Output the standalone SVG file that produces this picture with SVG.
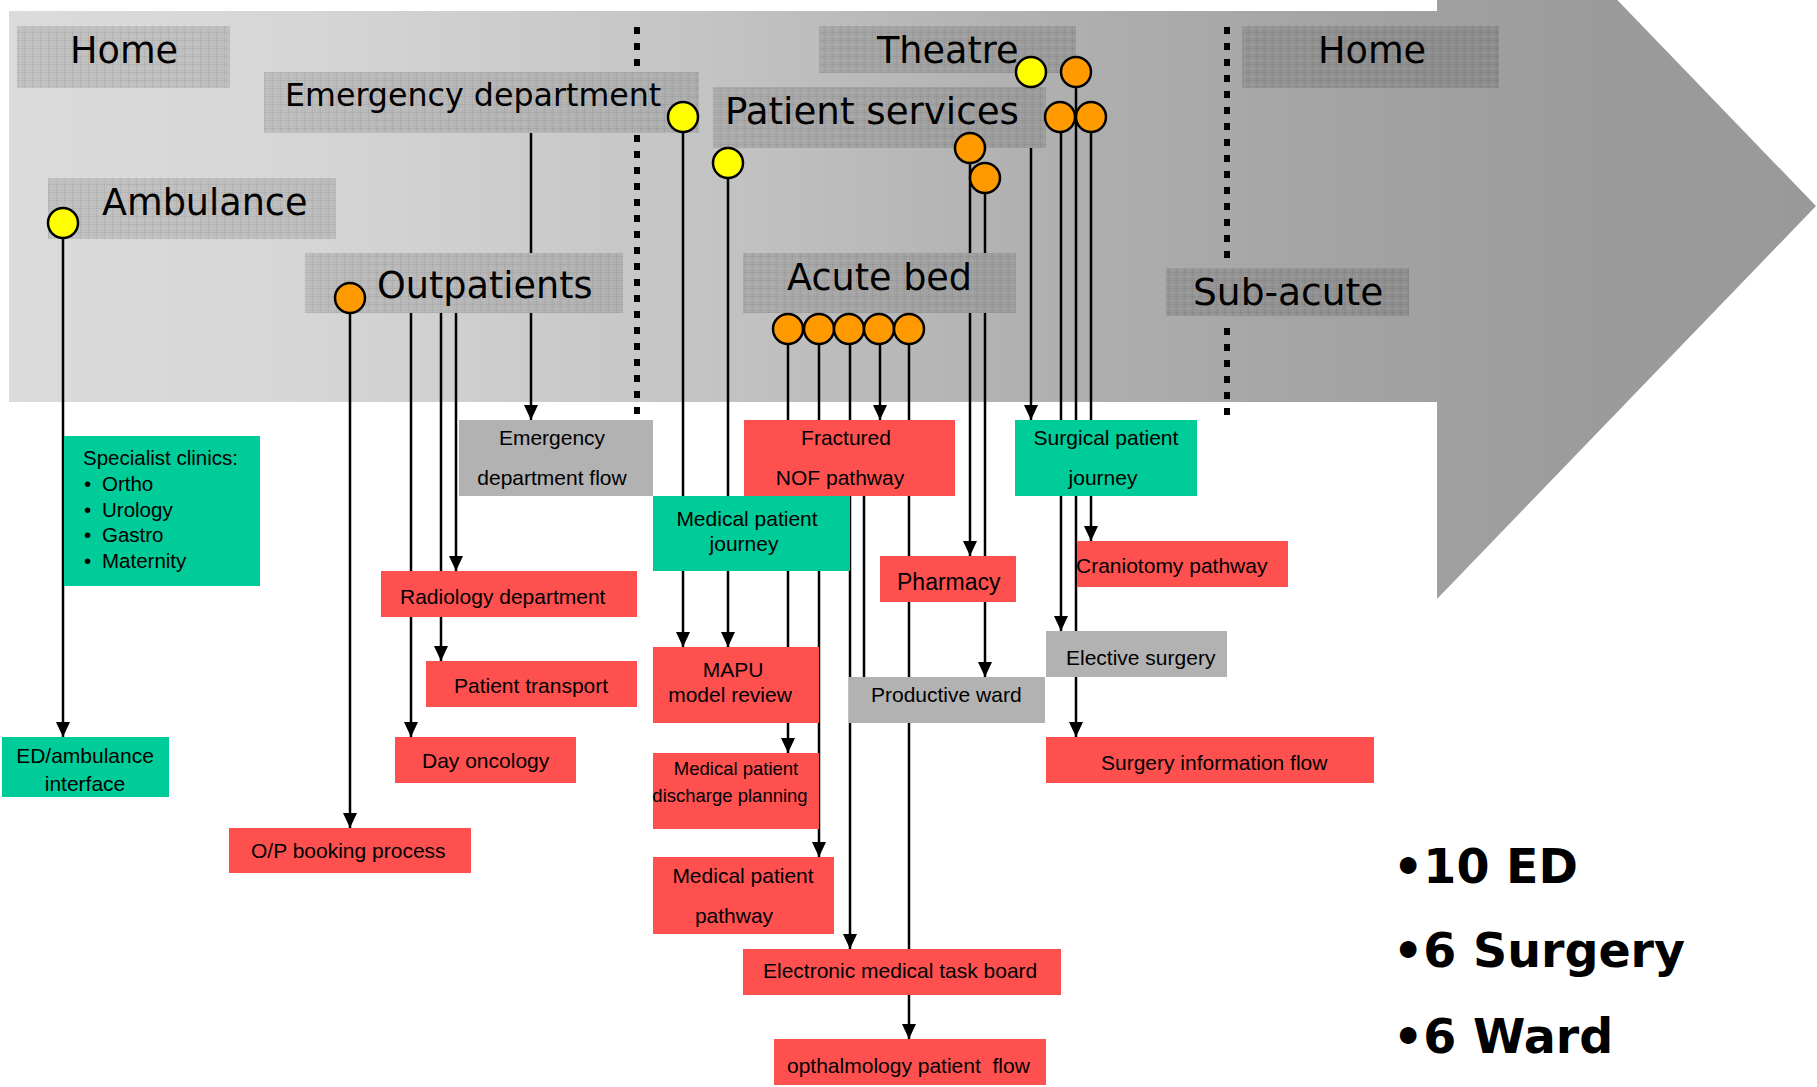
<svg xmlns="http://www.w3.org/2000/svg" width="1817" height="1087" viewBox="0 0 1817 1087">
  <defs>
    <linearGradient id="bandFill" gradientUnits="userSpaceOnUse" x1="9" y1="0" x2="1816" y2="0">
      <stop offset="0" stop-color="#dbdbdb"/>
      <stop offset="0.161" stop-color="#d6d6d6"/>
      <stop offset="0.382" stop-color="#c4c4c4"/>
      <stop offset="0.548" stop-color="#b2b2b2"/>
      <stop offset="0.714" stop-color="#a5a5a5"/>
      <stop offset="0.88" stop-color="#9b9b9b"/>
      <stop offset="1" stop-color="#999999"/>
    </linearGradient>
    <!-- fine gridded texture of the stage labels -->
    <pattern id="labelTexture" width="8" height="8" patternUnits="userSpaceOnUse">
      <rect width="8" height="8" fill="#000" fill-opacity="0.12"/>
      <path d="M0 0.5H8M0.5 0V8" stroke="#000" stroke-opacity="0.05" stroke-width="1"/>
      <path d="M0 4.5H8M4.5 0V8" stroke="#fff" stroke-opacity="0.06" stroke-width="1"/>
    </pattern>
    <marker id="arrow" markerUnits="userSpaceOnUse" markerWidth="15" markerHeight="14" refX="15" refY="7" orient="auto">
      <path d="M0,0 L15,7 L0,14 Z" fill="#000"/>
    </marker>
  </defs>
  <style>
    .lbl rect { fill: url(#labelTexture); }
    .lbl text { font-family: "DejaVu Sans", Verdana, sans-serif; font-size: 36.6px; fill: #000; }
    .box text { font-family: "Liberation Sans", Arial, sans-serif; font-size: 21px; fill: #000; }
    .red { fill: #ff5050; }
    .green { fill: #00cc99; }
    .grey { fill: #b2b2b2; }
    .conn line { stroke: #000; stroke-width: 2.5; fill: none; }
    .conn line.arr { marker-end: url(#arrow); }
    .dots line { stroke: #000; stroke-width: 6; stroke-dasharray: 7 9; }
    .yel { fill: #ffff00; stroke: #000; stroke-width: 2.5; }
    .org { fill: #ff9900; stroke: #000; stroke-width: 2.5; }
    .tally text { font-family: "DejaVu Sans", Verdana, sans-serif; font-weight: bold; font-size: 47.5px; fill: #000; }
  </style>

  <!-- big timeline arrow -->
  <path id="timeline" d="M9,11 H1437 V-187 L1816,206 L1437,599 V402 H9 Z" fill="url(#bandFill)"/>

  <!-- stage separators -->
  <g class="dots">
    <line x1="637" y1="27" x2="637" y2="72"/>
    <line x1="637" y1="135" x2="637" y2="414"/>
    <line x1="1227" y1="27" x2="1227" y2="267"/>
    <line x1="1227" y1="328" x2="1227" y2="417"/>
  </g>

  <!-- stage labels -->
  <g id="lbl-home-start" class="lbl"><rect x="17" y="26" width="213" height="62"/><text x="70" y="63">Home</text></g>
  <g id="lbl-ed" class="lbl"><rect x="264" y="72" width="435" height="61"/><text x="285" y="106" style="font-size:31.7px">Emergency department</text></g>
  <g id="lbl-ambulance" class="lbl"><rect x="48" y="178" width="288" height="61"/><text x="102" y="215">Ambulance</text></g>
  <g id="lbl-outpatients" class="lbl"><rect x="305" y="253" width="318" height="60"/><text x="377" y="298">Outpatients</text></g>
  <g id="lbl-theatre" class="lbl"><rect x="819" y="26" width="257" height="47"/><text x="877" y="63">Theatre</text></g>
  <g id="lbl-patient-services" class="lbl"><rect x="713" y="87" width="333" height="61"/><text x="725" y="124" style="font-size:37.2px">Patient services</text></g>
  <g id="lbl-acute-bed" class="lbl"><rect x="743" y="253" width="273" height="60"/><text x="787" y="290">Acute bed</text></g>
  <g id="lbl-home-end" class="lbl"><rect x="1242" y="26" width="257" height="62"/><text x="1318" y="63">Home</text></g>
  <g id="lbl-subacute" class="lbl"><rect x="1166" y="268" width="243" height="48"/><text x="1193" y="305" style="font-size:37.6px">Sub-acute</text></g>

  <!-- connectors -->
  <g id="connectors" class="conn">
    <line class="arr" x1="63" y1="238" x2="63" y2="737"/>
    <line x1="531" y1="133" x2="531" y2="253"/>
    <line class="arr" x1="531" y1="313" x2="531" y2="420"/>
    <line class="arr" x1="350" y1="313" x2="350" y2="828"/>
    <line class="arr" x1="411" y1="313" x2="411" y2="737"/>
    <line class="arr" x1="441" y1="313" x2="441" y2="661"/>
    <line class="arr" x1="456" y1="313" x2="456" y2="571"/>
    <line class="arr" x1="683" y1="132" x2="683" y2="647"/>
    <line class="arr" x1="728" y1="178" x2="728" y2="647"/>
    <line class="arr" x1="788" y1="344" x2="788" y2="753"/>
    <line class="arr" x1="819" y1="344" x2="819" y2="857"/>
    <line class="arr" x1="850" y1="344" x2="850" y2="949"/>
    <line class="arr" x1="880" y1="344" x2="880" y2="420"/>
    <line class="arr" x1="909" y1="344" x2="909" y2="1039"/>
    <line x1="864" y1="496" x2="864" y2="677"/>
    <line x1="970" y1="163" x2="970" y2="253"/>
    <line class="arr" x1="970" y1="313" x2="970" y2="556"/>
    <line x1="985" y1="193" x2="985" y2="253"/>
    <line class="arr" x1="985" y1="313" x2="985" y2="677"/>
    <line class="arr" x1="1031" y1="148" x2="1031" y2="420"/>
    <line class="arr" x1="1061" y1="132" x2="1061" y2="631"/>
    <line class="arr" x1="1076" y1="87" x2="1076" y2="737"/>
    <line class="arr" x1="1091" y1="132" x2="1091" y2="541"/>
  </g>

  <!-- touch points -->
  <g id="touchpoints">
    <circle class="yel" cx="63" cy="223" r="15"/>
    <circle class="yel" cx="683" cy="117" r="15"/>
    <circle class="yel" cx="728" cy="163" r="15"/>
    <circle class="yel" cx="1031" cy="72" r="15"/>
    <circle class="org" cx="350" cy="298" r="15"/>
    <circle class="org" cx="1076" cy="72" r="15"/>
    <circle class="org" cx="1060" cy="117" r="15"/>
    <circle class="org" cx="1091" cy="117" r="15"/>
    <circle class="org" cx="970" cy="148" r="15"/>
    <circle class="org" cx="985" cy="178" r="15"/>
    <circle class="org" cx="788" cy="329" r="15"/>
    <circle class="org" cx="819" cy="329" r="15"/>
    <circle class="org" cx="849" cy="329" r="15"/>
    <circle class="org" cx="879" cy="329" r="15"/>
    <circle class="org" cx="909" cy="329" r="15"/>
  </g>

  <!-- process boxes -->
  <g id="specialist-clinics" class="box">
    <rect class="green" x="64" y="436" width="196" height="150"/>
    <text x="83" y="465" style="font-size:20.5px">Specialist clinics:</text>
    <text x="84" y="491" style="font-size:20.5px">•</text><text x="102" y="491" style="font-size:20.5px">Ortho</text>
    <text x="84" y="517" style="font-size:20.5px">•</text><text x="102" y="517" style="font-size:20.5px">Urology</text>
    <text x="84" y="542" style="font-size:20.5px">•</text><text x="102" y="542" style="font-size:20.5px">Gastro</text>
    <text x="84" y="568" style="font-size:20.5px">•</text><text x="102" y="568" style="font-size:20.5px">Maternity</text>
  </g>
  <g id="ed-ambulance" class="box">
    <rect class="green" x="2" y="737" width="167" height="60"/>
    <text x="85" y="763" text-anchor="middle">ED/ambulance</text>
    <text x="85" y="791" text-anchor="middle">interface</text>
  </g>
  <g id="ed-flow" class="box">
    <rect class="grey" x="459" y="420" width="194" height="76"/>
    <text x="552" y="445" text-anchor="middle">Emergency</text>
    <text x="552" y="485" text-anchor="middle">department flow</text>
  </g>
  <g id="radiology" class="box">
    <rect class="red" x="381" y="571" width="256" height="46"/>
    <text x="400" y="604">Radiology department</text>
  </g>
  <g id="patient-transport" class="box">
    <rect class="red" x="426" y="661" width="211" height="46"/>
    <text x="454" y="693">Patient transport</text>
  </g>
  <g id="day-oncology" class="box">
    <rect class="red" x="395" y="737" width="181" height="46"/>
    <text x="422" y="768">Day oncology</text>
  </g>
  <g id="op-booking" class="box">
    <rect class="red" x="229" y="828" width="242" height="45"/>
    <text x="251" y="858">O/P booking process</text>
  </g>
  <g id="nof" class="box">
    <rect class="red" x="744" y="420" width="211" height="76"/>
    <text x="846" y="445" text-anchor="middle">Fractured</text>
    <text x="840" y="485" text-anchor="middle">NOF pathway</text>
  </g>
  <g id="medical-journey" class="box">
    <rect class="green" x="653" y="496" width="197" height="75"/>
    <text x="747" y="526" text-anchor="middle">Medical patient</text>
    <text x="744" y="551" text-anchor="middle">journey</text>
  </g>
  <g id="mapu" class="box">
    <rect class="red" x="653" y="647" width="166" height="76"/>
    <text x="733" y="677" text-anchor="middle">MAPU</text>
    <text x="730" y="702" text-anchor="middle">model review</text>
  </g>
  <g id="discharge" class="box">
    <rect class="red" x="653" y="753" width="166" height="76"/>
    <text x="736" y="775" text-anchor="middle" style="font-size:18.5px">Medical patient</text>
    <text x="730" y="802" text-anchor="middle" style="font-size:18.5px">discharge planning</text>
  </g>
  <g id="medical-pathway" class="box">
    <rect class="red" x="653" y="857" width="181" height="77"/>
    <text x="743" y="883" text-anchor="middle">Medical patient</text>
    <text x="734" y="923" text-anchor="middle">pathway</text>
  </g>
  <g id="task-board" class="box">
    <rect class="red" x="743" y="949" width="318" height="46"/>
    <text x="763" y="978">Electronic medical task board</text>
  </g>
  <g id="ophthalmology" class="box">
    <rect class="red" x="774" y="1039" width="272" height="46"/>
    <text x="787" y="1073" xml:space="preserve">opthalmology patient  flow</text>
  </g>
  <g id="surgical-journey" class="box">
    <rect class="green" x="1015" y="420" width="182" height="76"/>
    <text x="1106" y="445" text-anchor="middle">Surgical patient</text>
    <text x="1103" y="485" text-anchor="middle">journey</text>
  </g>
  <g id="pharmacy" class="box">
    <rect class="red" x="880" y="556" width="136" height="46"/>
    <text x="897" y="590" style="font-size:23px">Pharmacy</text>
  </g>
  <g id="craniotomy" class="box">
    <rect class="red" x="1077" y="541" width="211" height="46"/>
    <text x="1076" y="573">Craniotomy pathway</text>
  </g>
  <g id="elective" class="box">
    <rect class="grey" x="1046" y="631" width="181" height="46"/>
    <text x="1066" y="665">Elective surgery</text>
  </g>
  <g id="productive-ward" class="box">
    <rect class="grey" x="849" y="677" width="196" height="46"/>
    <text x="871" y="702">Productive ward</text>
  </g>
  <g id="surgery-info" class="box">
    <rect class="red" x="1046" y="737" width="328" height="46"/>
    <text x="1101" y="770">Surgery information flow</text>
  </g>

  <!-- counts -->
  <g id="tally" class="tally">
    <text x="1393" y="883">•10 ED</text>
    <text x="1393" y="967">•6 Surgery</text>
    <text x="1393" y="1053">•6 Ward</text>
  </g>
</svg>
